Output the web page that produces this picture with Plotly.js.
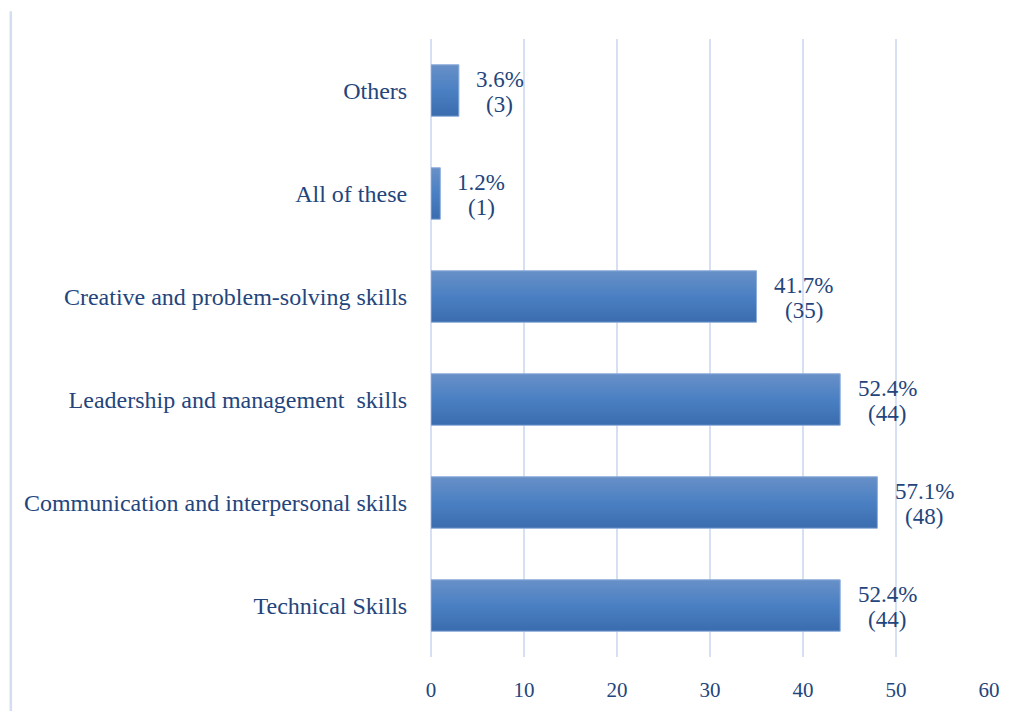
<!DOCTYPE html>
<html>
<head>
<meta charset="utf-8">
<script src="https://cdn.plot.ly/plotly-3.0.1.min.js"></script>
<style>html,body{margin:0;padding:0;background:#fff;}#chart{width:1020px;height:711px;}</style>
</head>
<body>
<div id="chart"></div>
<script>
const categories = ["Technical Skills", "Communication and interpersonal skills", "Leadership and management  skills", "Creative and problem-solving skills", "All of these", "Others"];
const counts = [44, 48, 44, 35, 1, 3];
const percents = ["52.4%", "57.1%", "52.4%", "41.7%", "1.2%", "3.6%"];
const xTicks = [0, 10, 20, 30, 40, 50, 60];

const textColor = "#24457c";
const gridColor = "#d5e1f2";
const fontFam = "'Liberation Serif', 'Times New Roman', serif";

const trace = {
  type: "bar",
  orientation: "h",
  y: categories,
  x: counts,
  width: 0.5,
  marker: {color: "#4a7dbf", line: {color: "#8eaedb", width: 1}},
  hoverinfo: "none"
};

const annFont = {family: fontFam, size: 23, color: textColor};
const annotations = [];
categories.forEach((c, i) => {
  const shift = 17 + 6 * percents[i].length;
  annotations.push({
    x: counts[i], y: c, xref: "x", yref: "y",
    text: percents[i], showarrow: false, xanchor: "center",
    xshift: shift, yshift: 11, font: annFont
  });
  annotations.push({
    x: counts[i], y: c, xref: "x", yref: "y",
    text: "(" + counts[i] + ")", showarrow: false, xanchor: "center",
    xshift: shift, yshift: -14, font: annFont
  });
});

const layout = {
  width: 1020, height: 711,
  margin: {l: 431, r: 31, t: 39, b: 54},
  paper_bgcolor: "#fff", plot_bgcolor: "#fff",
  showlegend: false,
  bargap: 0.5,
  font: {family: fontFam, size: 22, color: textColor},
  xaxis: {
    range: [0, 60], tickvals: xTicks, ticktext: xTicks.map(String),
    showgrid: true, gridcolor: gridColor, gridwidth: 1.5,
    zeroline: true, zerolinecolor: gridColor, zerolinewidth: 1.5,
    showline: false,
    ticks: "outside", ticklen: 14, tickcolor: "rgba(0,0,0,0)",
    tickfont: {family: fontFam, size: 21, color: textColor},
    fixedrange: true
  },
  yaxis: {
    type: "category", categoryorder: "array", categoryarray: categories,
    showgrid: false, zeroline: false, showline: false,
    ticks: "outside", ticklen: 18, tickcolor: "rgba(0,0,0,0)",
    tickfont: {family: fontFam, size: 24, color: textColor},
    fixedrange: true
  },
  annotations: annotations,
  shapes: [{
    type: "line", xref: "paper", yref: "paper",
    x0: -0.753, x1: -0.753, y0: -0.09, y1: 1.045,
    line: {color: "#d3dff1", width: 2.5}
  }]
};

Plotly.newPlot("chart", [trace], layout, {displayModeBar: false, staticPlot: true}).then(() => {
  const svg = document.querySelector("#chart .main-svg");
  const ns = "http://www.w3.org/2000/svg";
  let defs = svg.querySelector("defs");
  if (!defs) { defs = document.createElementNS(ns, "defs"); svg.insertBefore(defs, svg.firstChild); }
  const g = document.createElementNS(ns, "linearGradient");
  g.setAttribute("id", "barGrad");
  g.setAttribute("x1", "0"); g.setAttribute("y1", "0"); g.setAttribute("x2", "0"); g.setAttribute("y2", "1");
  [["0", "#6890c7"], ["0.5", "#4a80c3"], ["1", "#3a6cae"]].forEach(([o, c]) => {
    const s = document.createElementNS(ns, "stop");
    s.setAttribute("offset", o); s.setAttribute("stop-color", c);
    g.appendChild(s);
  });
  defs.appendChild(g);
  document.querySelectorAll("#chart .barlayer .point path").forEach(p => {
    p.style.fill = "url(#barGrad)";
  });
});
</script>
</body>
</html>
